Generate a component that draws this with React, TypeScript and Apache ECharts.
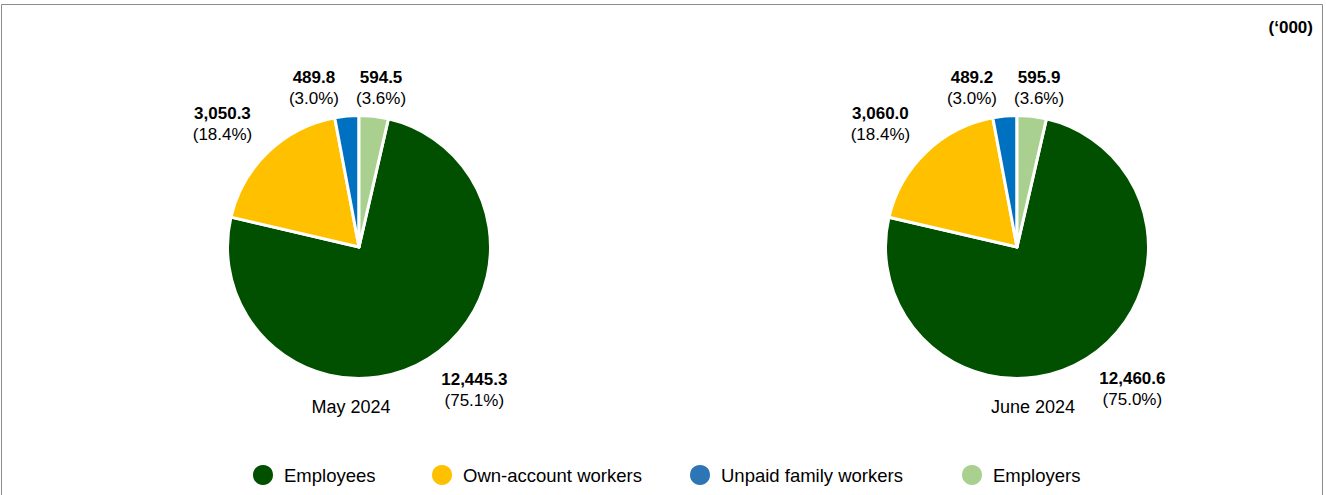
import React, { useEffect, useRef } from "react";
import * as echarts from "echarts";

const categories = ["Employees", "Own-account workers", "Unpaid family workers", "Employers"];
const mayValues = [12445.3, 3050.3, 489.8, 594.5];
const juneValues = [12460.6, 3060.0, 489.2, 595.9];
const mayShares = [75.1, 18.4, 3.0, 3.6];
const juneShares = [75.0, 18.4, 3.0, 3.6];
const periods = ["May 2024", "June 2024"];
const unitLabel = "(\u2018000)";

const sliceColors = ["#005000", "#FFC000", "#0070C0", "#A9D08E"];
const legendColors = ["#005000", "#FFC000", "#2E75B6", "#A9D08E"];

// layout tweaks (style only)
const legendLefts = [246, 425, 683, 955];
const labelNudges: [number, number][] = [
  [-3, 14],
  [3, -14],
  [-1, -8],
  [-25, -8],
];

const FONT = "Arial, 'Liberation Sans', Helvetica, sans-serif";

function fmt(v: number) {
  return v.toLocaleString("en-US", { minimumFractionDigits: 1, maximumFractionDigits: 1 });
}

function buildSeries(values: number[], shares: number[], cx: number) {
  const total = values.reduce((a, b) => a + b, 0);
  const startAngle = 90 - (360 * values[values.length - 1]) / total;
  return {
    type: "pie",
    center: [cx, 247],
    radius: 131.5,
    startAngle,
    clockwise: true,
    avoidLabelOverlap: false,
    itemStyle: { borderColor: "#ffffff", borderWidth: 3 },
    emphasis: { disabled: true },
    label: {
      show: true,
      position: "outside",
      color: "#000",
      fontFamily: FONT,
      formatter: (p: any) => `{v|${fmt(values[p.dataIndex])}}\n{p|(${shares[p.dataIndex].toFixed(1)}%)}`,
      rich: {
        v: { fontWeight: "bold", fontSize: 17, lineHeight: 21, fontFamily: FONT, color: "#000", align: "center" },
        p: { fontSize: 17, lineHeight: 21, fontFamily: FONT, color: "#000", align: "center" },
      },
    },
    labelLine: { show: false, length: 20, length2: 0 },
    labelLayout: (p: any) => ({ dx: labelNudges[p.dataIndex][0], dy: labelNudges[p.dataIndex][1] }),
    data: categories.map((name, i) => ({
      name,
      value: values[i],
      itemStyle: { color: sliceColors[i] },
    })),
  };
}

export default function App() {
  const ref = useRef<HTMLDivElement>(null);
  useEffect(() => {
    if (!ref.current) return;
    const chart = echarts.init(ref.current, null, { renderer: "svg" });
    chart.setOption({
      animation: false,
      backgroundColor: "#ffffff",
      legend: categories.map((name, i) => ({
        data: [{ name, itemStyle: { color: legendColors[i] } }],
        left: legendLefts[i],
        top: 458,
        icon: "circle",
        itemWidth: 32,
        itemHeight: 22,
        selectedMode: false,
        textStyle: { fontSize: 18.5, fontFamily: FONT, color: "#000" },
      })),
      graphic: [
        {
          type: "rect",
          shape: { x: 1.5, y: 4.5, width: 1321, height: 520 },
          style: { fill: "none", stroke: "#8c8c8c", lineWidth: 1 },
          silent: true,
        },
        {
          type: "text",
          x: 1313,
          y: 27,
          style: { text: unitLabel, align: "right", verticalAlign: "middle", font: `bold 17px ${FONT}`, fill: "#000" },
        },
        {
          type: "text",
          x: 351,
          y: 407,
          style: { text: periods[0], align: "center", verticalAlign: "middle", font: `18px ${FONT}`, fill: "#000" },
        },
        {
          type: "text",
          x: 1033,
          y: 407,
          style: { text: periods[1], align: "center", verticalAlign: "middle", font: `18px ${FONT}`, fill: "#000" },
        },
      ],
      series: [buildSeries(mayValues, mayShares, 359), buildSeries(juneValues, juneShares, 1017)],
    });
    return () => chart.dispose();
  }, []);
  return (
    <div
      ref={ref}
      style={{ position: "absolute", left: 0, top: 0, width: 1326, height: 495 }}
    />
  );
}
